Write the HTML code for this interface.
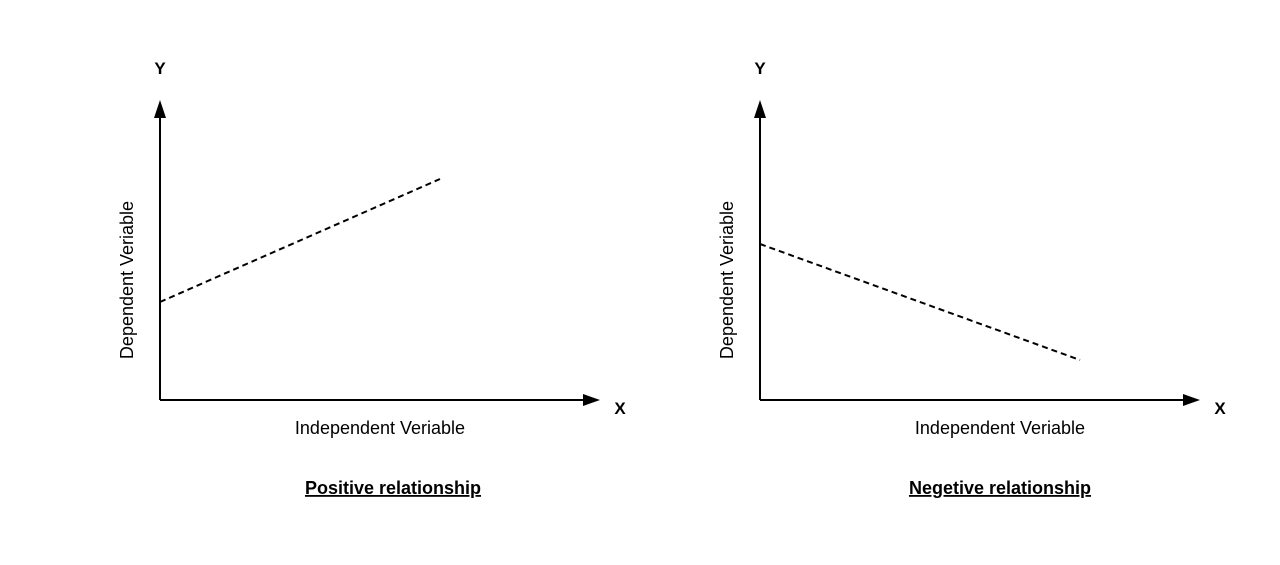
<!DOCTYPE html>
<html><head><meta charset="utf-8"><style>body{margin:0;background:#fff}</style></head><body>
<svg width="1280" height="560" xmlns="http://www.w3.org/2000/svg" font-family="Liberation Sans, Arial, sans-serif" font-size="18">
<rect width="1280" height="560" fill="#fff"/>
<g stroke="#000" stroke-width="2" fill="none">
<line x1="160" y1="400" x2="160" y2="116"/>
<line x1="160" y1="400" x2="584" y2="400"/>
<line x1="760" y1="400" x2="760" y2="116"/>
<line x1="760" y1="400" x2="1184" y2="400"/>
<line x1="160" y1="302" x2="440" y2="179" stroke-dasharray="6,4"/>
<line x1="760" y1="244" x2="1080" y2="360" stroke-dasharray="6,4"/>
</g>
<g fill="#000">
<polygon points="160,100 154,118 166,118"/>
<polygon points="600,400 583,394 583,406"/>
<polygon points="760,100 754,118 766,118"/>
<polygon points="1200,400 1183,394 1183,406"/>
</g>
<g text-anchor="middle" fill="#000">
<text x="160" y="74" font-weight="bold" font-size="17">Y</text>
<text x="620" y="414" font-weight="bold" font-size="17">X</text>
<text x="380" y="434">Independent Veriable</text>
<text x="393" y="494" font-weight="bold" text-decoration="underline">Positive relationship</text>
<text transform="translate(133,280) rotate(-90)">Dependent Veriable</text>
<text x="760" y="74" font-weight="bold" font-size="17">Y</text>
<text x="1220" y="414" font-weight="bold" font-size="17">X</text>
<text x="1000" y="434">Independent Veriable</text>
<text x="1000" y="494" font-weight="bold" text-decoration="underline">Negetive relationship</text>
<text transform="translate(733,280) rotate(-90)">Dependent Veriable</text>
</g>
</svg>
</body></html>
